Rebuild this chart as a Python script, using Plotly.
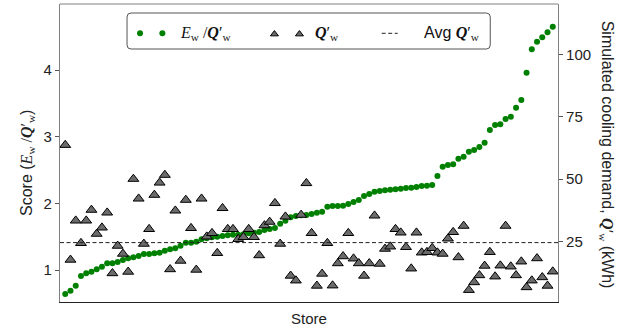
import plotly.graph_objects as go

# ---------------- data ----------------
store_idx = list(range(94))

score = [0.64, 0.69, 0.765, 0.91, 0.95, 0.975, 1.01, 1.05, 1.10, 1.10,
         1.12, 1.15, 1.175, 1.19, 1.21, 1.24, 1.24, 1.25, 1.26, 1.29,
         1.31, 1.325, 1.365, 1.41, 1.41, 1.425, 1.46, 1.475, 1.49, 1.50,
         1.51, 1.52, 1.53, 1.53, 1.535, 1.55, 1.56, 1.57, 1.60, 1.615,
         1.63, 1.695, 1.74, 1.79, 1.81, 1.82, 1.825, 1.84, 1.86, 1.875,
         1.95, 1.96, 1.96, 1.965, 1.99, 2.02, 2.05, 2.11, 2.14, 2.175,
         2.185, 2.195, 2.205, 2.21, 2.22, 2.23, 2.235, 2.245, 2.26, 2.265,
         2.275, 2.41, 2.55, 2.575, 2.585, 2.67, 2.70, 2.775, 2.80, 2.845,
         2.91, 3.10, 3.175, 3.185, 3.265, 3.30, 3.435, 3.55, 3.96, 4.31,
         4.425, 4.49, 4.565, 4.65]

q_cool = [63.7, 17.7, 33.4, 24.4, 33.4, 37.7, 28.1, 30.6, 36.6, 12.3,
          23.3, 20.1, 12.9, 50.1, 42.2, 24.1, 30.0, 43.7, 48.6, 51.7,
          13.9, 37.4, 17.3, 41.7, 30.4, 13.7, 42.2, 27.0, 28.4, 20.4,
          38.4, 30.0, 30.0, 26.0, 26.8, 30.0, 26.8, 19.5, 31.5, 32.9,
          40.4, 24.1, 35.0, 11.3, 9.4, 35.7, 48.4, 28.4, 7.3, 12.1,
          24.4, 7.4, 16.3, 19.1, 28.4, 18.2, 16.3, 11.3, 16.3, 35.4,
          16.1, 22.1, 23.0, 30.0, 28.6, 22.8, 14.2, 28.6, 20.6, 20.8,
          22.4, 20.6, 20.1, 26.2, 28.8, 18.7, 31.3, 5.6, 8.7, 11.5,
          15.3, 20.8, 11.0, 15.4, 31.3, 15.0, 11.5, 17.0, 6.7, 9.4,
          18.3, 10.7, 7.3, 13.0]

avg_q = 24.6

left_ticks = [1, 2, 3, 4]
right_ticks = [25, 50, 75, 100]

# ---------------- geometry ----------------
W, H = 624, 330
PL, PR, PT, PB = 60, 557.7, 4, 302   # plot-area pixel box

def px(x):
    return (x - PL) / (PR - PL)

def py(y):
    return (PB - y) / (PB - PT)

SANS = "Liberation Sans, Arial, sans-serif"
SERIF = "Liberation Serif, Times New Roman, serif"
GREEN = "#008000"
TRI = "#6b6b6b"

fig = go.Figure()

fig.add_trace(go.Scatter(
    x=store_idx, y=score, mode="markers", yaxis="y",
    marker=dict(color=GREEN, size=6, line=dict(width=0)),
    showlegend=False, hoverinfo="skip"))

fig.add_trace(go.Scatter(
    x=store_idx, y=q_cool, mode="markers", yaxis="y2",
    marker=dict(symbol="triangle-up", size=9.5, color=TRI,
                line=dict(color="black", width=1)),
    showlegend=False, hoverinfo="skip"))

fig.add_trace(go.Scatter(
    x=[-1, 94], y=[avg_q, avg_q], mode="lines", yaxis="y2",
    line=dict(color="#222222", width=1, dash="4px,2.5px"),
    showlegend=False, hoverinfo="skip"))

# ---- custom legend markers on a pixel-coordinate helper axis ----
leg_y = 33.3
fig.add_trace(go.Scatter(
    x=[140, 162.3], y=[leg_y, leg_y], mode="markers",
    xaxis="x3", yaxis="y3",
    marker=dict(color=GREEN, size=6, line=dict(width=0)),
    showlegend=False, hoverinfo="skip"))
fig.add_trace(go.Scatter(
    x=[274.3, 299.3], y=[leg_y + 0.8, leg_y + 0.8], mode="markers",
    xaxis="x3", yaxis="y3",
    marker=dict(symbol="triangle-up", size=7, color=TRI,
                line=dict(color="black", width=1)),
    showlegend=False, hoverinfo="skip"))

axis_common = dict(showgrid=False, zeroline=False)

fig.update_layout(
    width=W, height=H,
    margin=dict(l=PL, r=W - PR, t=PT, b=H - PB, pad=0),
    paper_bgcolor="white", plot_bgcolor="white",
    font=dict(family=SANS, size=15, color="#222222"),
    xaxis=dict(range=[-1, 94], showticklabels=False, ticks="",
               showline=True, linecolor="#222222", linewidth=1.3,
               automargin=False, **axis_common),
    yaxis=dict(range=[0.52, 4.99], tickvals=left_ticks, ticks="outside",
               ticklen=4, tickcolor="#555555", tickwidth=1,
               showline=True, linecolor="#808080", linewidth=1.2,
               tickfont=dict(size=15, color="#222222", family=SANS),
               automargin=False, **axis_common),
    yaxis2=dict(range=[0.8, 120.2], tickvals=right_ticks, ticks="outside",
                overlaying="y", side="right", anchor="x",
                ticklen=4, tickcolor="#555555", tickwidth=1,
                showline=True, linecolor="#808080", linewidth=1.2,
                tickfont=dict(size=15, color="#222222", family=SANS),
                automargin=False, **axis_common),
    xaxis3=dict(range=[PL, PR], overlaying="x", anchor="y3", visible=False,
                **axis_common),
    yaxis3=dict(range=[PB, PT], overlaying="y", anchor="x3", visible=False,
                **axis_common),
)

shapes = [
    # top spine
    dict(type="line", xref="paper", yref="paper", x0=0, x1=1, y0=1, y1=1,
         line=dict(color="#808080", width=1.2)),
    # legend frame (rounded)
    dict(type="path", xref="x3", yref="y3", layer="below",
         path=("M 131,13 L 486,13 Q 490,13 490,17 L 490,45 Q 490,49 486,49 "
               "L 131,49 Q 127,49 127,45 L 127,17 Q 127,13 131,13 Z"),
         fillcolor="white", line=dict(color="#555555", width=1)),
    # legend dash sample
    dict(type="line", xref="x3", yref="y3", x0=381.5, x1=397.5,
         y0=leg_y, y1=leg_y, line=dict(color="#222222", width=1, dash="4px,2.5px")),
]

m_E = f'<span style="font-family:{SERIF}"><i>E</i><sub>w</sub> /<b><i>Q</i></b>′<sub>w</sub></span>'
m_Q = f'<span style="font-family:{SERIF}"><b><i>Q</i></b>′<sub>w</sub></span>'

annotations = [
    dict(text=m_E, xref="paper", yref="paper", x=px(178), y=py(leg_y),
         xanchor="left", yanchor="middle", showarrow=False,
         font=dict(size=16, color="#111111")),
    dict(text=m_Q, xref="paper", yref="paper", x=px(313), y=py(leg_y),
         xanchor="left", yanchor="middle", showarrow=False,
         font=dict(size=16, color="#111111")),
    dict(text="Avg " + m_Q, xref="paper", yref="paper", x=px(422), y=py(leg_y),
         xanchor="left", yanchor="middle", showarrow=False,
         font=dict(size=16, color="#111111", family=SANS)),
    # x title
    dict(text="Store", xref="paper", yref="paper", x=px(308.5), y=py(318),
         xanchor="center", yanchor="middle", showarrow=False,
         font=dict(size=15, color="#222222", family=SANS)),
    # left title
    dict(text="Score (" + m_E + ")", xref="paper", yref="paper",
         x=px(27), y=py(163), xanchor="center", yanchor="middle",
         textangle=-90, showarrow=False,
         font=dict(size=16, color="#222222", family=SANS)),
    # right title (reads top-to-bottom)
    dict(text="Simulated cooling demand, " + m_Q + " (kWh)",
         xref="paper", yref="paper", x=px(607), y=py(155),
         xanchor="center", yanchor="middle", textangle=90, showarrow=False,
         font=dict(size=16, color="#222222", family=SANS)),
]

fig.update_layout(shapes=shapes, annotations=annotations)

fig.write_html(
    "out.html",
    config={"displayModeBar": False},
    post_script="document.body.style.margin='0';document.body.style.padding='0';",
)
